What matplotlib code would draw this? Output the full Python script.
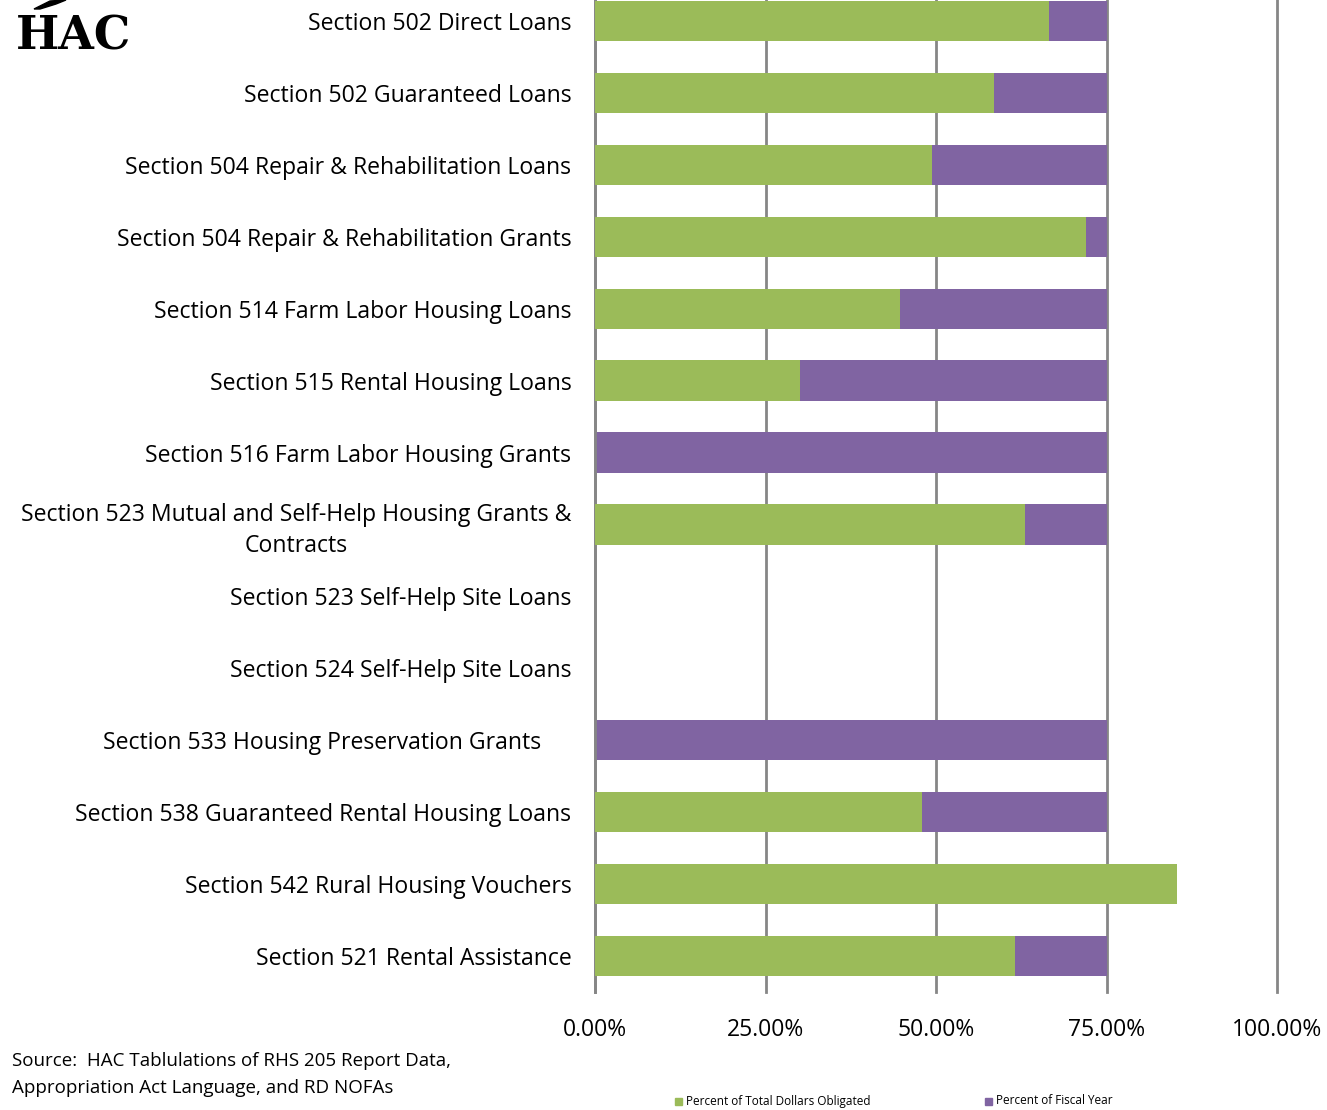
import matplotlib.pyplot as plt
from matplotlib.patches import Polygon

programs = [
    "Section 502 Direct Loans",
    "Section 502 Guaranteed Loans",
    "Section 504 Repair & Rehabilitation Loans",
    "Section 504 Repair & Rehabilitation Grants",
    "Section 514 Farm Labor Housing Loans",
    "Section 515 Rental Housing Loans",
    "Section 516 Farm Labor Housing Grants",
    "Section 523 Mutual and Self-Help Housing Grants &\nContracts",
    "Section 523 Self-Help Site Loans",
    "Section 524 Self-Help Site Loans",
    "Section 533 Housing Preservation Grants     ",
    "Section 538 Guaranteed Rental Housing Loans",
    "Section 542 Rural Housing Vouchers",
    "Section 521 Rental Assistance",
]
pct_obligated = [66.6, 58.5, 49.4, 72.0, 44.7, 30.1, 0.0, 63.0, 0.0, 0.0, 0.0, 47.9, 85.4, 61.6]
pct_fiscal_year = [75, 75, 75, 75, 75, 75, 75, 75, 0, 0, 75, 75, 75, 75]
xticks = [0, 25, 50, 75, 100]

GREEN = "#9BBB59"
PURPLE = "#8064A2"
GRID = "#868686"

plt.rcParams["font.family"] = ["Open Sans", "DejaVu Sans"]

fig = plt.figure(figsize=(13.27, 11.10), dpi=100)
W, H = 1327, 1110
ax = fig.add_axes([595 / W, 1 - 992 / H, (1277 - 595) / W, (992 + 15) / H])

y = list(range(len(programs)))
ax.barh(y, pct_fiscal_year, height=0.56, color=PURPLE, zorder=2)
ax.barh(y, pct_obligated, height=0.56, color=GREEN, zorder=3)

ax.set_xlim(0, 100)
ax.set_ylim(len(programs) - 0.5, -0.5)
ax.set_xticks(xticks)
ax.set_xticklabels([f"{v:.2f}%" for v in xticks], fontsize=16.5)
ax.set_yticks(y)
ax.set_yticklabels(programs, fontsize=16.6, multialignment="center", linespacing=1.35)
ax.tick_params(length=0, axis="both")
ax.tick_params(axis="x", pad=19)
ax.tick_params(axis="y", pad=17)
ax.grid(axis="x", color=GRID, linewidth=2, zorder=1)
for line in ax.get_xgridlines():
    line.set_clip_on(False)
for side in ["top", "right", "bottom"]:
    ax.spines[side].set_visible(False)
ax.spines["left"].set_color(GRID)
ax.spines["left"].set_linewidth(2)

# logo
fig.text(16 / W, 1 - 37 / H, "HAC", fontsize=33, fontweight="bold",
         family="DejaVu Serif", va="center", ha="left")
fig.patches.append(Polygon([(34 / W, 1 - 9 / H), (50 / W, 1 - 1 / H), (66 / W, 1 - 0 / H),
                            (56 / W, 1 - 4 / H), (40 / W, 1 - 9 / H)], closed=True,
                           color="black", transform=fig.transFigure, figure=fig))

fig.text(12 / W, 1 - 1061 / H, "Source:  HAC Tablulations of RHS 205 Report Data,",
         fontsize=13.5, va="center")
fig.text(12 / W, 1 - 1088 / H, "Appropriation Act Language, and RD NOFAs",
         fontsize=13.5, va="center")

# legend
for x0, label, col in [(675, "Percent of Total Dollars Obligated", GREEN),
                       (985, "Percent of Fiscal Year", PURPLE)]:
    fig.patches.append(Polygon([(x0 / W, 1 - 1098 / H), (x0 / W, 1 - 1105 / H),
                                ((x0 + 7) / W, 1 - 1105 / H), ((x0 + 7) / W, 1 - 1098 / H)],
                               closed=True, color=col, transform=fig.transFigure, figure=fig))
    fig.text((x0 + 11) / W, 1 - 1101 / H, label, fontsize=8.5, va="center")

fig.savefig("out.png", dpi=100)
